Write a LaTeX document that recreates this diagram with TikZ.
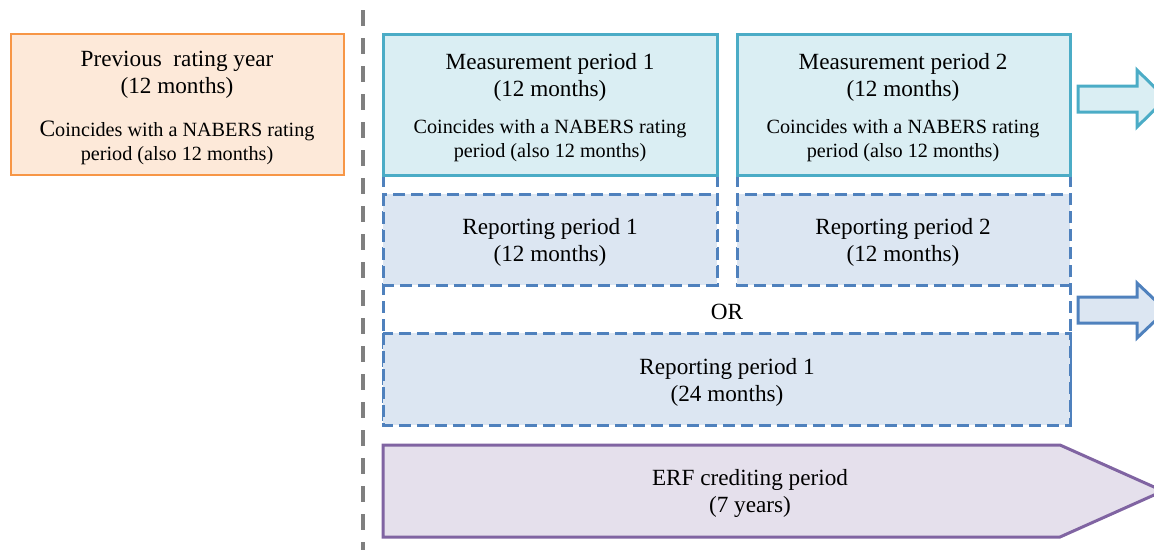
\documentclass[tikz,border=0pt]{standalone}
\usepackage{fontspec}
\setmainfont{Liberation Serif}
\definecolor{orfill}{HTML}{FDE9D9}
\definecolor{ordraw}{HTML}{F79646}
\definecolor{tlfill}{HTML}{DAEEF3}
\definecolor{tldraw}{HTML}{4BACC6}
\definecolor{blfill}{HTML}{DCE6F2}
\definecolor{bldraw}{HTML}{4F81BD}
\definecolor{pufill}{HTML}{E5E0EC}
\definecolor{pudraw}{HTML}{8064A2}
\definecolor{greyline}{HTML}{7F7F7F}
\tikzset{
  big/.style={font=\fontsize{23.2}{27}\selectfont, align=center, inner sep=0pt},
  small/.style={font=\fontsize{20.2}{24.5}\selectfont, align=center, inner sep=0pt},
  orbox/.style={draw=ordraw, fill=orfill, line width=2.5pt},
  tlbox/.style={draw=tldraw, fill=tlfill, line width=3pt},
  bldash/.style={draw=bldraw, line width=3pt, dash pattern=on 12pt off 6pt},
  blbox/.style={bldash, fill=blfill},
  pubox/.style={draw=pudraw, fill=pufill, line width=3pt, line join=miter},
  vline/.style={draw=greyline, line width=4pt, dash pattern=on 16pt off 12pt},
}
\begin{document}
\begin{tikzpicture}[x=1pt,y=-1pt]
\useasboundingbox (0,0) rectangle (1154,549);
% grey divider
\coordinate (vtop) at (363,10);
\coordinate (vbot) at (363,560);
\draw[vline] (vtop) -- (vbot);
% dashed outer frames (behind)
\draw[bldash] (383,175) -- (383,425);
\draw[bldash] (1070,175) -- (1070,425);
\draw[bldash] (717,175) -- (717,285);
\draw[bldash] (737,175) -- (737,285);
% previous rating year
\draw[orbox] (11,34) rectangle (344,175);
\node[big] (prevt) at (177,75) {Previous\ \ rating year\\(12 months)};
\node[small] (prevs) at (177,143) {{\fontsize{23.5}{24.5}\selectfont C}oincides with a NABERS rating\\period (also 12 months)};
% measurement periods
\draw[tlbox] (383,34) rectangle (717,175);
\node[big] (m1t) at (550,77) {Measurement period 1\\(12 months)};
\node[small] (m1s) at (550,140.5) {Coincides with a NABERS rating\\period (also 12 months)};
\draw[tlbox] (737,34) rectangle (1070,175);
\node[big] (m2t) at (903,77) {Measurement period 2\\(12 months)};
\node[small] (m2s) at (903,140.5) {Coincides with a NABERS rating\\period (also 12 months)};
% reporting 12 months
\draw[blbox] (383,194) rectangle (717,285);
\node[big] (r1) at (550,242) {Reporting period 1\\(12 months)};
\draw[blbox] (737,194) rectangle (1070,285);
\node[big] (r2) at (903,242) {Reporting period 2\\(12 months)};
% OR
\node[big] (or) at (727,312) {OR};
% reporting 24 months
\draw[blbox] (383,333) rectangle (1070,425);
\node[big] (r24) at (727,382) {Reporting period 1\\(24 months)};
% ERF crediting period
\draw[pubox] (383,445) -- (1060,445) -- (1163,491) -- (1060,537) -- (383,537) -- cycle;
\node[big] (erf) at (750,493) {ERF crediting period\\(7 years)};
% right arrows
\draw[tlbox, line join=miter] (1078,86) -- (1137,86) -- (1137,70) -- (1166,98.5) -- (1137,127) -- (1137,112) -- (1078,112) -- cycle;
\draw[draw=bldraw, fill=blfill, line width=3pt, line join=miter] (1078,297) -- (1137,297) -- (1137,283) -- (1166,310.5) -- (1137,338) -- (1137,323) -- (1078,323) -- cycle;
\end{tikzpicture}
\end{document}
